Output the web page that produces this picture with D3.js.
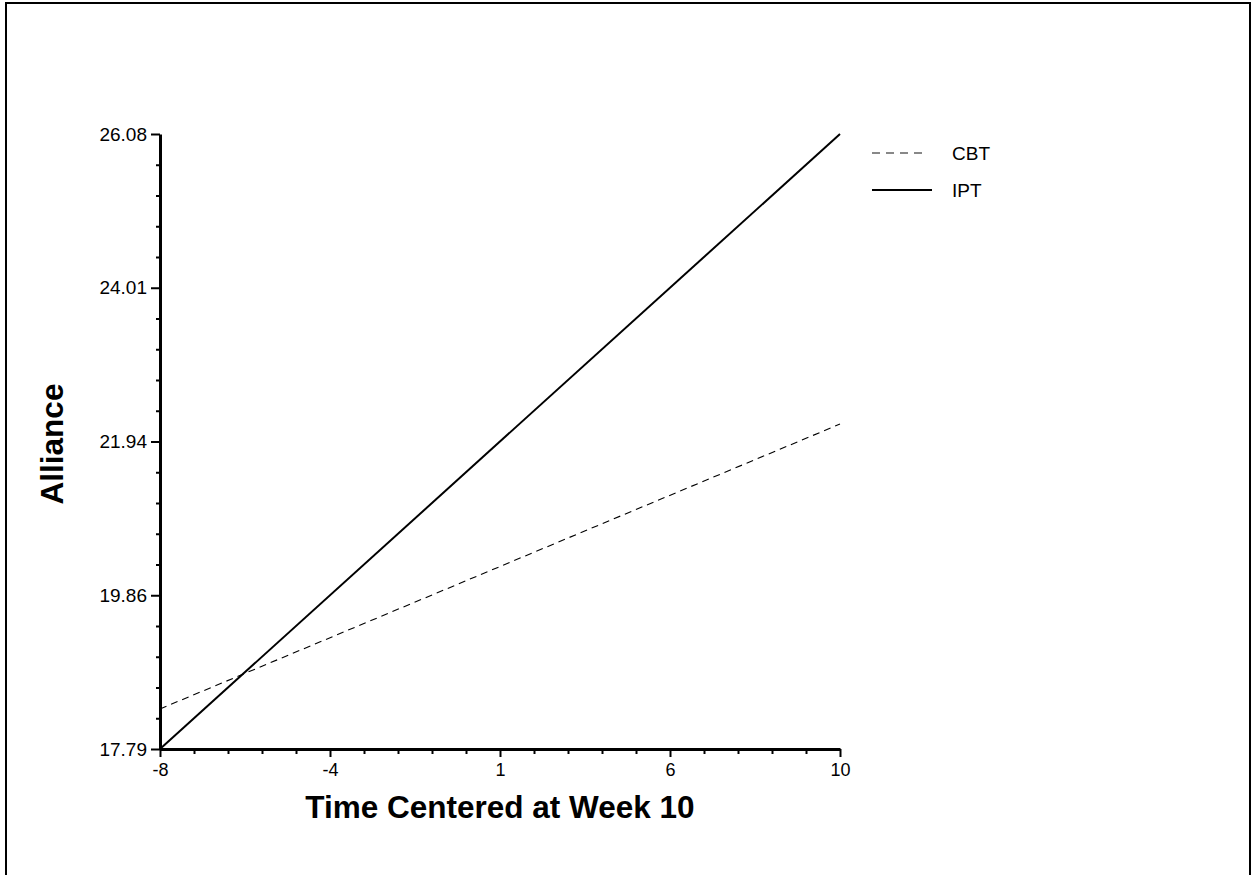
<!DOCTYPE html>
<html>
<head>
<meta charset="utf-8">
<script src="https://cdn.jsdelivr.net/npm/d3@7"></script>
<style>
  html, body { margin: 0; padding: 0; background: #fff; }
  svg { display: block; font-family: "Liberation Sans", Arial, Helvetica, sans-serif; }
</style>
</head>
<body>
<svg id="chart" width="1256" height="875"></svg>
<script>
// ---- data ----
const xDomain = [-8, 10];
const yDomain = [17.79, 26.08];
const xTickValues = [-8, -3.5, 1, 5.5, 10];
const xTickLabels = ["-8", "-4", "1", "6", "10"];
const yTickValues = [17.79, 19.8625, 21.935, 24.0075, 26.08];
const yTickLabels = ["17.79", "19.86", "21.94", "24.01", "26.08"];
const time = [-8, 10];
const cbtValues = [18.33, 22.17];
const iptValues = [17.79, 26.08];
const seriesNames = ["CBT", "IPT"];
const xTitle = "Time Centered at Week 10";
const yTitle = "Alliance";

(function () {
// ---- layout ----
const svg = d3.select("#chart");
const pLeft = 160, pRight = 840, pTop = 134, pBottom = 749;

const x = d3.scaleLinear().domain(xDomain).range([pLeft, pRight]);
const y = d3.scaleLinear().domain(yDomain).range([pBottom, pTop]);

// outer frame (no visible bottom edge)
svg.append("path")
  .attr("d", "M6,880V3H1250V880")
  .attr("fill", "none").attr("stroke", "#000").attr("stroke-width", 2);

function minorTicks(majors) {
  const out = [];
  for (let i = 0; i < majors.length - 1; i++) {
    const step = (majors[i + 1] - majors[i]) / 5;
    for (let k = 1; k < 5; k++) out.push(majors[i] + k * step);
  }
  return out;
}

// x axis
const gx = svg.append("g").attr("transform", `translate(0,${pBottom})`);
gx.call(d3.axisBottom(x).tickValues(minorTicks(xTickValues)).tickSize(5).tickFormat(""));
gx.call(g => g.select(".domain").remove());
const gx2 = svg.append("g").attr("transform", `translate(0,${pBottom})`);
gx2.call(d3.axisBottom(x).tickValues(xTickValues).tickSize(8).tickSizeOuter(0).tickPadding(6)
  .tickFormat((d, i) => xTickLabels[i]));
[gx, gx2].forEach(g => {
  g.selectAll("line").attr("stroke", "#000").attr("stroke-width", 2);
  g.selectAll("text").attr("font-size", 18).attr("fill", "#000")
    .attr("font-family", "Liberation Sans, Arial, sans-serif");
});
gx2.select(".domain").attr("stroke", "#000").attr("stroke-width", 3);

// y axis
const gy = svg.append("g").attr("transform", `translate(${pLeft},0)`);
gy.call(d3.axisLeft(y).tickValues(minorTicks(yTickValues)).tickSize(4).tickFormat(""));
gy.call(g => g.select(".domain").remove());
const gy2 = svg.append("g").attr("transform", `translate(${pLeft},0)`);
gy2.call(d3.axisLeft(y).tickValues(yTickValues).tickSize(9).tickSizeOuter(0).tickPadding(4)
  .tickFormat((d, i) => yTickLabels[i]));
[gy, gy2].forEach(g => {
  g.selectAll("line").attr("stroke", "#000").attr("stroke-width", 2);
  g.selectAll("text").attr("font-size", 19).attr("fill", "#000")
    .attr("font-family", "Liberation Sans, Arial, sans-serif");
});
gy2.select(".domain").attr("stroke", "#000").attr("stroke-width", 3);

// lines
const line = d3.line().x(d => x(d[0])).y(d => y(d[1]));
svg.append("path")
  .datum(time.map((t, i) => [t, cbtValues[i]]))
  .attr("d", line).attr("fill", "none")
  .attr("stroke", "#000").attr("stroke-width", 1.1).attr("stroke-dasharray", "7,5");
svg.append("path")
  .datum(time.map((t, i) => [t, iptValues[i]]))
  .attr("d", line).attr("fill", "none")
  .attr("stroke", "#000").attr("stroke-width", 2);

// titles
svg.append("text").attr("x", 500).attr("y", 818).attr("text-anchor", "middle")
  .attr("font-size", 31.5).attr("font-weight", "bold").text(xTitle);
svg.append("text").attr("transform", "translate(63,444) rotate(-90)").attr("text-anchor", "middle")
  .attr("font-size", 31.5).attr("font-weight", "bold").text(yTitle);

// legend
const legendY = [153, 190];
const lg = svg.append("g");
seriesNames.forEach((name, i) => {
  lg.append("line").attr("x1", 872).attr("x2", i === 0 ? 927 : 932)
    .attr("y1", legendY[i]).attr("y2", legendY[i])
    .attr("stroke", i === 0 ? "#888" : "#000")
    .attr("stroke-width", 2)
    .attr("stroke-dasharray", i === 0 ? "8,6" : null);
  lg.append("text").attr("x", 952).attr("y", legendY[i] + 7)
    .attr("font-size", 19).text(name);
});
})();
</script>
</body>
</html>
